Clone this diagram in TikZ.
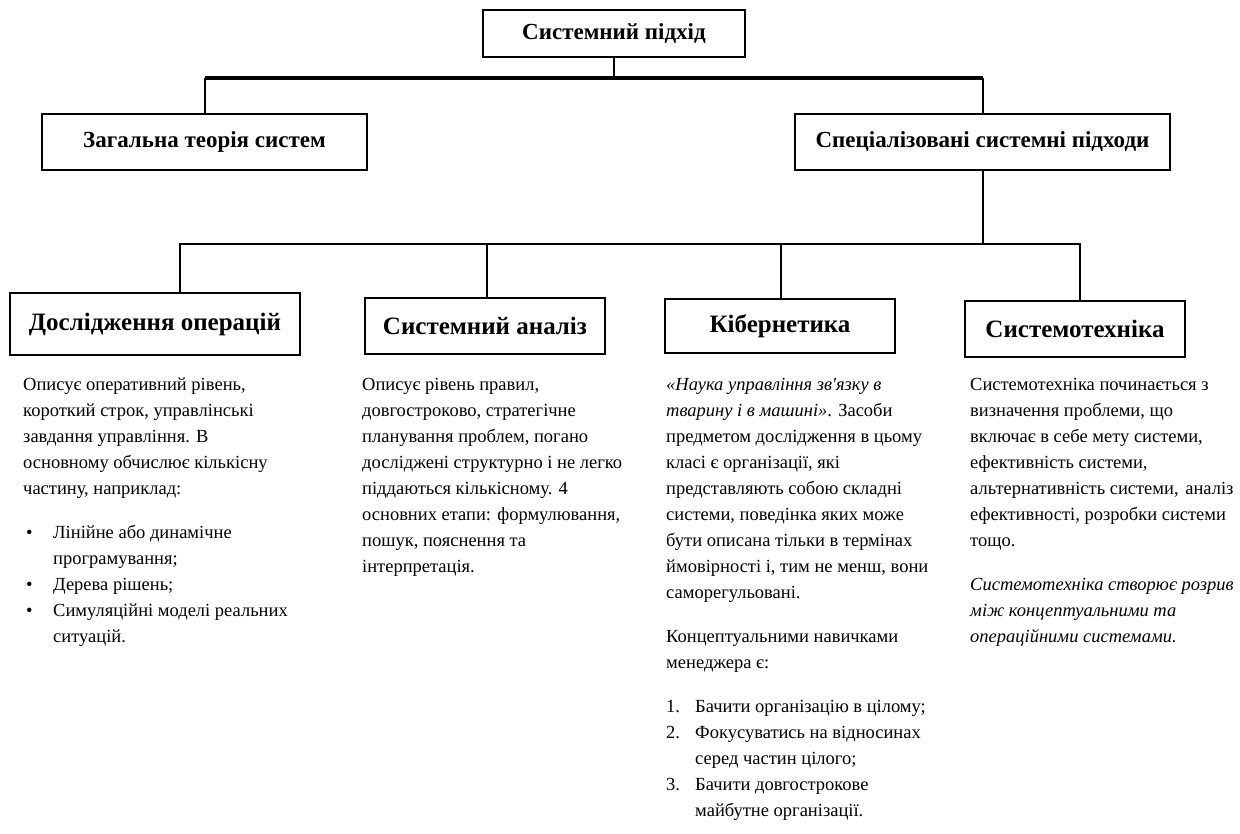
\documentclass[tikz,border=0pt]{standalone}
\usepackage{fontspec}
\setmainfont{Liberation Serif}
\newfontfamily\apfont{Liberation Serif}
\begin{document}
\begin{tikzpicture}[x=1pt,y=-1pt,
  box/.style={draw, line width=1.2pt, inner sep=0pt, font=\bfseries\fontsize{23}{27}\selectfont},
  sbox/.style={draw, line width=1.2pt, inner sep=0pt, font=\bfseries\fontsize{25}{29}\selectfont},
  conn/.style={line width=2pt},
  bus/.style={line width=3.2pt},
  txt/.style={anchor=north west, align=left, inner sep=0pt, font=\fontsize{18.5}{26}\selectfont}]
\useasboundingbox (0,0) rectangle (1240,834);
% level 1 and 2
\node[box, minimum width=262pt, minimum height=47pt] (top) at (614,33.5) {Системний підхід};
\node[box, minimum width=325pt, minimum height=56pt] (gen) at (204.5,142) {Загальна теорія систем};
\node[box, minimum width=375pt, minimum height=56pt] (spec) at (982.5,142) {Спеціалізовані системні підходи};
\coordinate (j1) at (614,78);
\draw[conn] (top.south) -- (j1);
\draw[bus] (gen.north |- j1) -- (spec.north |- j1);
\draw[conn] (gen.north |- j1) -- (gen.north);
\draw[conn] (spec.north |- j1) -- (spec.north);
% level 3
\node[sbox, minimum width=290pt, minimum height=62pt] (b1) at (155,324) {Дослідження операцій};
\node[sbox, minimum width=240pt, minimum height=56pt] (b2) at (485,326) {Системний аналіз};
\node[sbox, minimum width=230pt, minimum height=54pt] (b3) at (780,326) {Кібернетика};
\node[sbox, minimum width=220pt, minimum height=56pt] (b4) at (1075,329) {Системотехніка};
\coordinate (j2) at (980,244);
\coordinate (d1) at (180,244);
\coordinate (d2) at (487,244);
\coordinate (d3) at (781,244);
\coordinate (d4) at (1080,244);
\draw[conn] (spec.south) -- (spec.south |- j2);
\draw[conn, line cap=rect] (d1) -- (d4);
\draw[conn] (d1) -- (d1 |- b1.north);
\draw[conn] (d2) -- (d2 |- b2.north);
\draw[conn] (d3) -- (d3 |- b3.north);
\draw[conn] (d4) -- (d4 |- b4.north);
% texts
\node[txt] (t1) at (23,378) {Описує оперативний рівень,\\
короткий строк, управлінські\\
завдання управління. В\\
основному обчислює кількісну\\
частину, наприклад:\\[18pt]
\makebox[30pt][l]{\hspace{3pt}•}Лінійне або динамічне\\
\hspace*{30pt}програмування;\\
\makebox[30pt][l]{\hspace{3pt}•}Дерева рішень;\\
\makebox[30pt][l]{\hspace{3pt}•}Симуляційні моделі реальних\\
\hspace*{30pt}ситуацій.};
\node[txt] (t2) at (362,378) {Описує рівень правил,\\
довгостроково, стратегічне\\
планування проблем, погано\\
досліджені структурно і не легко\\
піддаються кількісному. 4\\
основних етапи: формулювання,\\
пошук, пояснення та\\
інтерпретація.};
\node[txt] (t3) at (666,378) {\itshape «Наука управління зв{\apfont\itshape '}язку в\\
\itshape тварину і в машині»\upshape. Засоби\\
предметом дослідження в цьому\\
класі є організації, які\\
представляють собою складні\\
системи, поведінка яких може\\
бути описана тільки в термінах\\
ймовірності і, тим не менш, вони\\
саморегульовані.\\[18pt]
Концептуальними навичками\\
менеджера є:\\[18pt]
\makebox[29pt][l]{1.}Бачити організацію в цілому;\\
\makebox[29pt][l]{2.}Фокусуватись на відносинах\\
\hspace*{29pt}серед частин цілого;\\
\makebox[29pt][l]{3.}Бачити довгострокове\\
\hspace*{29pt}майбутне організації.};
\node[txt] (t4) at (970,378) {Системотехніка починається з\\
визначення проблеми, що\\
включає в себе мету системи,\\
ефективність системи,\\
альтернативність системи,\hspace{2pt} аналіз\\
ефективності, розробки системи\\
тощо.\\[18pt]
\itshape Системотехніка створює розрив\\
\itshape між концептуальними та\\
\itshape операційними системами.};
\end{tikzpicture}
\end{document}
